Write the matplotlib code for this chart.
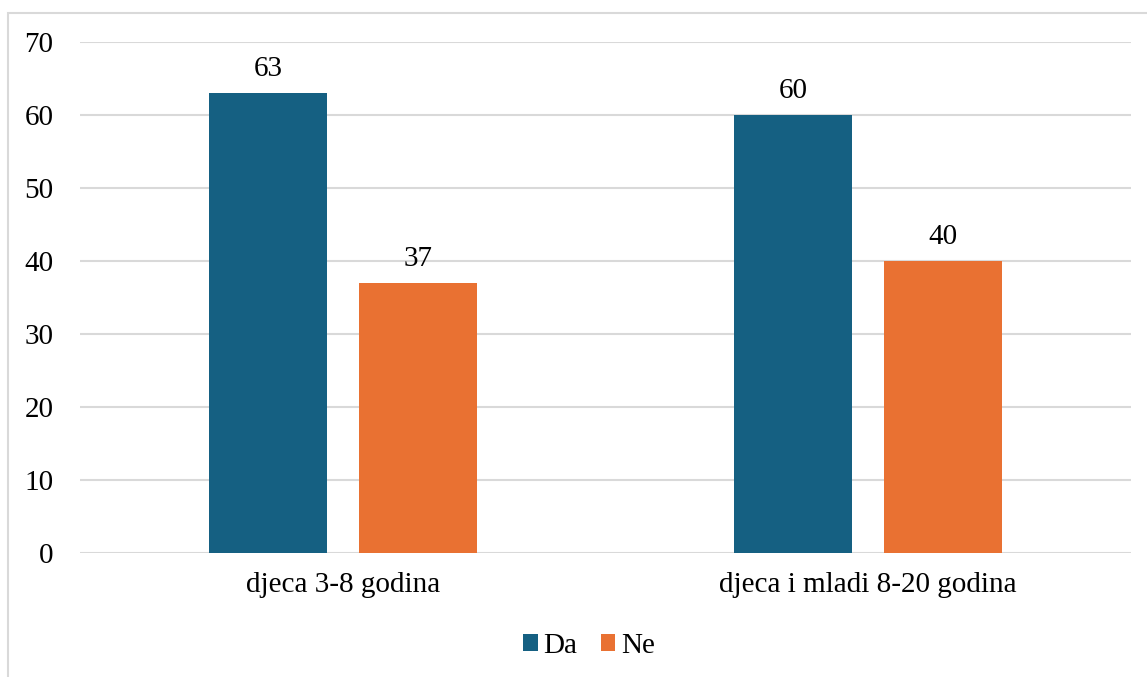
import numpy as np
import matplotlib.pyplot as plt
from matplotlib.patches import Rectangle

# chart data
categories = ["djeca 3-8 godina", "djeca i mladi 8-20 godina"]
series_names = ["Da", "Ne"]
da_values = [63, 60]
ne_values = [37, 40]
y_ticks = [0, 10, 20, 30, 40, 50, 60, 70]

colors = ["#156082", "#E97132"]

plt.rcParams["font.family"] = ["Liberation Serif", "DejaVu Serif"]

fig = plt.figure(figsize=(11.47, 6.77), dpi=100)
ax = fig.add_axes([80 / 1147, 1 - 553 / 677, (1131 - 80) / 1147, (553 - 42) / 677])

# light grey frame round the whole chart (cut off at right and bottom)
fig.patches.append(Rectangle((8 / 1147, -0.05), 1.1, 1 - 13 / 677 + 0.05,
                             transform=fig.transFigure, fill=False,
                             edgecolor="#d9d9d9", linewidth=1.5))

x = np.arange(len(categories))
width = 0.2245
offset = 0.1427

bars_da = ax.bar(x - offset, da_values, width, color=colors[0], label=series_names[0], zorder=3)
bars_ne = ax.bar(x + offset, ne_values, width, color=colors[1], label=series_names[1], zorder=3)

for bars in (bars_da, bars_ne):
    ax.bar_label(bars, padding=8, fontsize=21, color="#000000")

ax.set_xlim(-0.5, 1.5)
ax.set_ylim(0, 70)
ax.set_yticks(y_ticks)
ax.set_xticks(x)
ax.set_xticklabels(categories)
ax.tick_params(axis="both", length=0, labelsize=21, colors="#000000")
ax.tick_params(axis="y", pad=19)
ax.tick_params(axis="x", pad=14)

ax.grid(axis="y", color="#d9d9d9", linewidth=1.5, zorder=0)
for s in ax.spines.values():
    s.set_visible(False)

fig.legend(loc="center", bbox_to_anchor=(589 / 1147, 1 - 646 / 677), ncol=2,
           frameon=False, fontsize=21, handlelength=0.5, handleheight=0.5,
           handletextpad=0.2, columnspacing=0.8)

fig.savefig("out.png", dpi=100)
